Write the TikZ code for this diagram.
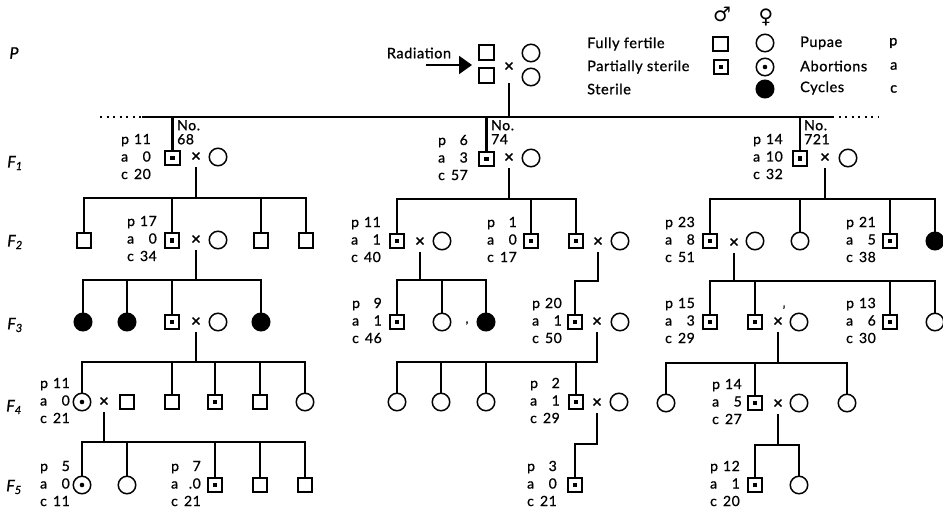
\documentclass[tikz,border=0pt]{standalone}
\usepackage{fontspec}
\setmainfont{Lato}[LetterSpace=4, FakeBold=0.9]
\newfontfamily\symfont{DejaVu Sans}
\usetikzlibrary{arrows.meta}
\newcommand\pac[3]{{\fontsize{14}{17.5}\selectfont\begin{tabular}{@{}l@{\hspace{5pt}}r@{}}p&#1\\a&#2\\c&#3\end{tabular}}}
\tikzset{
 conn/.style={line width=2.1pt},
 sq/.style={draw, line width=1.8pt, minimum size=14.5pt, inner sep=0pt},
 psq/.style={sq, path picture={\fill ([xshift=-2.4pt,yshift=-2.4pt]path picture bounding box.center) rectangle ([xshift=2.4pt,yshift=2.4pt]path picture bounding box.center);}},
 ci/.style={draw, circle, line width=1.5pt, minimum size=17.5pt, inner sep=0pt},
 pci/.style={ci, path picture={\fill (path picture bounding box.center) circle (2.3pt);}},
 fci/.style={ci, fill=black},
 cross/.style={inner sep=0pt, minimum height=20pt, font=\fontsize{17}{17}\selectfont},
 stat/.style={anchor=east, inner sep=0pt},
 lbl/.style={font=\fontsize{14.5}{14.5}\selectfont, inner sep=0pt},
 gen/.style={font=\fontsize{16}{16}\selectfont\itshape, inner sep=0pt},
 num/.style={anchor=north west, inner sep=0pt, align=left, font=\fontsize{14}{14}\selectfont},
}
\begin{document}
\begin{tikzpicture}[x=1pt,y=-1pt]
\useasboundingbox (0,0) rectangle (943,511);
% generation labels
\node[gen] (gP) at (14,53) {P};
\node[gen] (gF1) at (15,163) {F\textsubscript{1}};
\node[gen] (gF2) at (15,242) {F\textsubscript{2}};
\node[gen] (gF3) at (15,325) {F\textsubscript{3}};
\node[gen] (gF4) at (14,407) {F\textsubscript{4}};
\node[gen] (gF5) at (14,487) {F\textsubscript{5}};
% legend
\node[font=\symfont\fontsize{20}{20}\selectfont, inner sep=0pt] (male) at (722,14) {♂};
\node[font=\symfont\fontsize{20}{20}\selectfont, inner sep=0pt] (female) at (766,17) {♀};
\node[sq] (Lsq1) at (720.5,44) {};
\node[ci] (Lci1) at (765,43) {};
\node[psq] (Lsq2) at (721,67) {};
\node[pci] (Lci2) at (765,67) {};
\node[fci] (Lci3) at (765,89) {};
\node[lbl, anchor=west] (t1) at (587,44) {Fully fertile};
\node[lbl, anchor=west] (t2) at (587,67) {Partially sterile};
\node[lbl, anchor=west] (t3) at (587,89) {Sterile};
\node[lbl, anchor=west] (t4) at (800,43) {Pupae};
\node[lbl, anchor=west] (t5) at (800,66) {Abortions};
\node[lbl, anchor=west] (t6) at (800,88) {Cycles};
\node[lbl, anchor=west] (t7) at (889,43) {p};
\node[lbl, anchor=west] (t8) at (890,66) {a};
\node[lbl, anchor=west] (t9) at (890,89) {c};
% P generation
\node[lbl] (rad) at (419,53) {Radiation};
\coordinate (ra1) at (426,65);
\coordinate (ra2) at (472,65);
\draw[line width=2.2pt,-{Triangle[length=13pt,width=18pt]}] (ra1) -- (ra2);
\node[sq] (Pm1) at (486.5,52.5) {};
\node[sq] (Pm2) at (486.5,75.5) {};
\node[cross] (Px) at (509,67) {×};
\node[ci] (Pf1) at (531,53) {};
\node[ci] (Pf2) at (531,77) {};
\coordinate (topL) at (142,117);
\coordinate (topR) at (832,117);
\coordinate (dotL) at (100,117);
\coordinate (dotR) at (878,117);
\draw[conn] (topL) -- (topR);
\draw[line width=2.3pt, dash pattern=on 2.3pt off 4.2pt] (dotL) -- (topL);
\draw[line width=2.3pt, dash pattern=on 2.3pt off 4.2pt] (topR) -- (dotR);
\draw[conn] ([yshift=-6pt]Px.south) -- (Px.south |- topL);
% F1
\node[psq] (L1s) at (172.5,158) {};
\node[cross] (L1x) at (196,157) {×};
\node[ci] (L1c) at (218,157) {};
\node[stat] (L1t) at (151,158) {\pac{11}{0}{20}};
\node[num] (L1no) at (177,120) {No.\\68};
\node[psq] (M1s) at (486.5,159) {};
\node[cross] (M1x) at (509,158) {×};
\node[ci] (M1c) at (531,158) {};
\node[stat] (M1t) at (468,159) {\pac{6}{3}{57}};
\node[num] (M1no) at (491,120) {No.\\74};
\node[psq] (R1s) at (800,158.5) {};
\node[cross] (R1x) at (825,158) {×};
\node[ci] (R1c) at (848,158) {};
\node[stat] (R1t) at (783,158) {\pac{14}{10}{32}};
\node[num] (R1no) at (804,120) {No.\\721};
\draw[conn] (L1s.north) -- (L1s.north |- topL);
\draw[conn] (M1s.north) -- (M1s.north |- topL);
\draw[conn] (R1s.north) -- (R1s.north |- topL);
% ===== Left branch =====
\coordinate (bL2) at (0,198);
\node[sq] (L2a) at (84,240.5) {};
\node[psq] (L2b) at (172,240.5) {};
\node[cross] (L2bx) at (196,240) {×};
\node[ci] (L2bm) at (218,240) {};
\node[sq] (L2c) at (261,240.5) {};
\node[sq] (L2d) at (306,240.5) {};
\node[stat] (L2bt) at (157,240) {\pac{17}{0}{34}};
\draw[conn] (L1x.south) -- (L1x.south |- bL2);
\draw[conn] (L2a.north) |- (L2d.north |- bL2) -- (L2d.north);
\draw[conn] (L2b.north) -- (L2b.north |- bL2);
\draw[conn] (L2c.north) -- (L2c.north |- bL2);
\coordinate (bL3) at (0,280);
\node[fci] (L3a) at (83,322) {};
\node[fci] (L3b) at (127,322) {};
\node[psq] (L3c) at (172,322) {};
\node[cross] (L3cx) at (196,322) {×};
\node[ci] (L3cm) at (218,322) {};
\node[fci] (L3d) at (261,322) {};
\draw[conn] (L2bx.south) -- (L2bx.south |- bL3);
\draw[conn] (L3a.north) |- (L3d.north |- bL3) -- (L3d.north);
\draw[conn] (L3b.north) -- (L3b.north |- bL3);
\draw[conn] (L3c.north) -- (L3c.north |- bL3);
\coordinate (bL4) at (0,362);
\node[pci] (L4a) at (82,402) {};
\node[cross] (L4ax) at (104,402) {×};
\node[sq] (L4am) at (127,402) {};
\node[sq] (L4b) at (172,402) {};
\node[psq] (L4c) at (215,402) {};
\node[sq] (L4d) at (260,402) {};
\node[ci] (L4e) at (305,402) {};
\node[stat] (L4at) at (70,402) {\pac{11}{0}{21}};
\draw[conn] (L3cx.south) -- (L3cx.south |- bL4);
\draw[conn] (L4a.north) |- (L4e.north |- bL4) -- (L4e.north);
\draw[conn] (L4b.north) -- (L4b.north |- bL4);
\draw[conn] (L4c.north) -- (L4c.north |- bL4);
\draw[conn] (L4d.north) -- (L4d.north |- bL4);
\coordinate (bL5) at (0,442);
\node[pci] (L5a) at (82,485) {};
\node[ci] (L5b) at (127,485) {};
\node[psq] (L5c) at (215,485) {};
\node[sq] (L5d) at (260,485) {};
\node[sq] (L5e) at (305,485) {};
\node[stat] (L5at) at (70,485) {\pac{5}{0}{11}};
\node[stat] (L5ct) at (201,485) {\pac{7}{.0}{21}};
\draw[conn] (L4ax.south) -- (L4ax.south |- bL5);
\draw[conn] (L5a.north) |- (L5e.north |- bL5) -- (L5e.north);
\draw[conn] (L5b.north) -- (L5b.north |- bL5);
\draw[conn] (L5c.north) -- (L5c.north |- bL5);
\draw[conn] (L5d.north) -- (L5d.north |- bL5);
% ===== Middle branch =====
\coordinate (bM2) at (0,199);
\node[psq] (M2a) at (397,241) {};
\node[cross] (M2ax) at (420,242) {×};
\node[ci] (M2am) at (442,241) {};
\node[psq] (M2b) at (531,241) {};
\node[psq] (M2c) at (576,241) {};
\node[cross] (M2cx) at (598,242) {×};
\node[ci] (M2cm) at (620,241) {};
\node[stat] (M2at) at (381,241) {\pac{11}{1}{40}};
\node[stat] (M2bt) at (517,241) {\pac{1}{0}{17}};
\draw[conn] (M1x.south) -- (M1x.south |- bM2);
\draw[conn] (M2a.north) |- (M2c.north |- bM2) -- (M2c.north);
\draw[conn] (M2b.north) -- (M2b.north |- bM2);
\coordinate (bM3) at (0,280);
\node[psq] (M3a) at (397,322) {};
\node[ci] (M3b) at (442,322) {};
\node[fci] (M3c) at (486,322) {};
\node[stat] (M3at) at (382,322) {\pac{9}{1}{46}};
\node[inner sep=0pt, font=\fontsize{12}{12}\selectfont] (spk1) at (467,323) {,};
\draw[conn] (M2ax.south) -- (M2ax.south |- bM3);
\draw[conn] (M3a.north) |- (M3c.north |- bM3) -- (M3c.north);
\draw[conn] (M3b.north) -- (M3b.north |- bM3);
\node[psq] (M3d) at (575,322) {};
\node[cross] (M3dx) at (597,322) {×};
\node[ci] (M3dm) at (620,322) {};
\node[stat] (M3dt) at (562,322) {\pac{20}{1}{50}};
\coordinate (eM3) at (0,281);
\draw[conn] (M2cx.south) -- (M2cx.south |- eM3) -| (M3d.north);
\coordinate (bM4) at (0,362);
\node[ci] (M4a) at (397,402) {};
\node[ci] (M4b) at (441,402) {};
\node[ci] (M4c) at (486,402) {};
\node[psq] (M4d) at (576,402) {};
\node[cross] (M4dx) at (597,403) {×};
\node[ci] (M4dm) at (619,402) {};
\node[stat] (M4dt) at (560,402) {\pac{2}{1}{29}};
\draw[conn] (M4a.north) |- (M3dx.south |- bM4) -- (M3dx.south);
\draw[conn] (M4b.north) -- (M4b.north |- bM4);
\draw[conn] (M4c.north) -- (M4c.north |- bM4);
\draw[conn] (M4d.north) -- (M4d.north |- bM4);
\coordinate (eM5) at (0,444);
\node[psq] (M5) at (575,485) {};
\node[stat] (M5t) at (557,485) {\pac{3}{0}{21}};
\draw[conn] (M4dx.south) -- (M4dx.south |- eM5) -| (M5.north);
% ===== Right branch =====
\coordinate (bR2) at (0,199);
\node[psq] (R2a) at (710,241) {};
\node[cross] (R2ax) at (734,243) {×};
\node[ci] (R2am) at (755,241) {};
\node[ci] (R2b) at (800,241) {};
\node[psq] (R2c) at (890,241) {};
\node[fci] (R2d) at (935,241) {};
\node[stat] (R2at) at (695,241) {\pac{23}{8}{51}};
\node[stat] (R2ct) at (876,241) {\pac{21}{5}{38}};
\draw[conn] (R1x.south) -- (R1x.south |- bR2);
\draw[conn] (R2a.north) |- (R2d.north |- bR2) -- (R2d.north);
\draw[conn] (R2b.north) -- (R2b.north |- bR2);
\draw[conn] (R2c.north) -- (R2c.north |- bR2);
\coordinate (bR3) at (0,281);
\node[psq] (R3a) at (710,322) {};
\node[psq] (R3b) at (755,322) {};
\node[cross] (R3bx) at (778,322) {×};
\node[ci] (R3bm) at (799,322) {};
\node[psq] (R3c) at (890,322) {};
\node[ci] (R3d) at (935,322) {};
\node[stat] (R3at) at (695,322) {\pac{15}{3}{29}};
\node[stat] (R3ct) at (876,322) {\pac{13}{6}{30}};
\node[inner sep=0pt, font=\fontsize{12}{12}\selectfont] (spk2) at (784,310) {'};
\draw[conn] (R2ax.south) -- (R2ax.south |- bR3);
\draw[conn] (R3a.north) |- (R3d.north |- bR3) -- (R3d.north);
\draw[conn] (R3b.north) -- (R3b.north |- bR3);
\draw[conn] (R3c.north) -- (R3c.north |- bR3);
\coordinate (bR4) at (0,363);
\node[ci] (R4a) at (666,403) {};
\node[psq] (R4b) at (755,403) {};
\node[cross] (R4bx) at (778,404) {×};
\node[ci] (R4bm) at (799,403) {};
\node[ci] (R4c) at (847,403) {};
\node[stat] (R4bt) at (742,403) {\pac{14}{5}{27}};
\draw[conn] (R3bx.south) -- (R3bx.south |- bR4);
\draw[conn] (R4a.north) |- (R4c.north |- bR4) -- (R4c.north);
\draw[conn] (R4b.north) -- (R4b.north |- bR4);
\coordinate (bR5) at (0,445);
\node[psq] (R5a) at (755,485) {};
\node[ci] (R5b) at (799,485) {};
\node[stat] (R5at) at (740,485) {\pac{12}{1}{20}};
\draw[conn] (R4bx.south) -- (R4bx.south |- bR5);
\draw[conn] (R5a.north) |- (R5b.north |- bR5) -- (R5b.north);
\end{tikzpicture}
\end{document}
